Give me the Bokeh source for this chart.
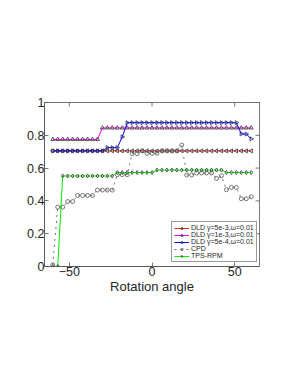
import math
from bokeh.plotting import figure
from bokeh.models import Range1d, FixedTicker, Legend, LegendItem
from bokeh.embed import file_html
from bokeh.resources import INLINE

# ---- data ----
angles = [-60, -57, -54, -51, -48, -45, -42, -39, -36, -33, -30, -27, -24, -21,
          -18, -15, -12, -9, -6, -3, 0, 3, 6, 9, 12, 15, 18, 21, 24, 27, 30, 33,
          36, 39, 42, 45, 48, 51, 54, 57, 60]

dld_5e3 = [0.705] * 41

dld_1e3 = [0.775, 0.775, 0.775, 0.775, 0.775, 0.775, 0.775, 0.775, 0.775, 0.775,
           0.845, 0.845, 0.845, 0.845, 0.845, 0.845, 0.845, 0.845, 0.845, 0.845,
           0.845, 0.845, 0.845, 0.845, 0.845, 0.845, 0.845, 0.845, 0.845, 0.845,
           0.845, 0.845, 0.845, 0.845, 0.845, 0.845, 0.845, 0.845, 0.845, 0.845,
           0.845]

dld_5e4 = [0.705, 0.705, 0.705, 0.705, 0.705, 0.705, 0.705, 0.705, 0.705, 0.705,
           0.705, 0.725, 0.725, 0.725, 0.790, 0.877, 0.877, 0.877, 0.877, 0.877,
           0.877, 0.877, 0.877, 0.877, 0.877, 0.877, 0.877, 0.877, 0.877, 0.877,
           0.877, 0.877, 0.877, 0.877, 0.877, 0.877, 0.877, 0.877, 0.808, 0.808,
           0.778]

cpd = [0.010, 0.362, 0.362, 0.396, 0.396, 0.433, 0.433, 0.433, 0.433, 0.466,
       0.466, 0.466, 0.466, 0.560, 0.560, 0.560, 0.688, 0.688, 0.705, 0.690,
       0.690, 0.690, 0.705, 0.705, 0.705, 0.705, 0.740, 0.558, 0.558, 0.570,
       0.570, 0.570, 0.570, 0.537, 0.553, 0.468, 0.482, 0.482, 0.413, 0.413,
       0.425]

tps_rpm = [0.000, 0.000, 0.552, 0.552, 0.552, 0.552, 0.552, 0.552, 0.552, 0.552,
           0.552, 0.552, 0.552, 0.573, 0.573, 0.573, 0.573, 0.573, 0.573, 0.573,
           0.573, 0.588, 0.588, 0.588, 0.588, 0.588, 0.588, 0.588, 0.588, 0.588,
           0.588, 0.588, 0.588, 0.588, 0.588, 0.573, 0.573, 0.573, 0.573, 0.573,
           0.573]

labels = ["DLD γ=5e-3,ω=0.01", "DLD γ=1e-3,ω=0.01", "DLD γ=5e-4,ω=0.01",
          "CPD", "TPS-RPM"]

x_ticks = [-50, 0, 50]
y_ticks = [0, 0.2, 0.4, 0.6, 0.8, 1]
y_tick_labels = ["0", "0.2", "0.4", "0.6", "0.8", "1"]
x_label = "Rotation angle"
x_lim = (-65, 65)
y_lim = (0, 1)

# ---- figure ----
FONT = "Liberation Sans"
TXT = "#262626"
AX = "#555555"

p = figure(frame_width=215, frame_height=164, output_backend="svg",
           toolbar_location=None, x_range=Range1d(*x_lim),
           y_range=Range1d(*y_lim), min_border_left=44, min_border_top=102,
           min_border_right=20, min_border_bottom=100,
           background_fill_color="white", border_fill_color="white")
p.grid.visible = False
p.outline_line_color = AX
p.outline_line_width = 0.8

ov = {t: s for t, s in zip(y_ticks, y_tick_labels)}

def style_axis(ax, ticks):
    ax.ticker = FixedTicker(ticks=ticks)
    ax.major_tick_in = 4
    ax.major_tick_out = 0
    ax.minor_tick_in = 0
    ax.minor_tick_out = 0
    ax.axis_line_color = AX
    ax.axis_line_width = 0.8
    ax.major_tick_line_color = AX
    ax.major_tick_line_width = 0.8
    ax.major_label_text_font = FONT
    ax.major_label_text_color = TXT
    ax.major_label_text_font_size = "12.5px"
    ax.major_label_standoff = 0

style_axis(p.xaxis[0], x_ticks)
style_axis(p.yaxis[0], y_ticks)
p.yaxis[0].major_label_overrides = ov
p.xaxis[0].axis_label = x_label
p.xaxis[0].axis_label_text_font = FONT
p.xaxis[0].axis_label_text_font_style = "normal"
p.xaxis[0].axis_label_text_font_size = "13px"
p.xaxis[0].axis_label_text_color = TXT
p.xaxis[0].axis_label_standoff = 0

# inward ticks on the top and right edges of the box
p.scatter(x_ticks, [y_lim[1]] * len(x_ticks), marker="dash", angle=math.pi / 2,
          size=8, line_color=AX, line_width=0.8)
p.scatter([x_lim[1]] * len(y_ticks), y_ticks, marker="dash",
          size=8, line_color=AX, line_width=0.8)

series = [
    (dld_5e3, "#ff2020", "solid", "triangle", math.pi / 2, "#333333"),
    (dld_1e3, "#ff00ff", "solid", "triangle", 0.0, "#333333"),
    (dld_5e4, "#0000ff", "solid", "triangle", -math.pi / 2, "#222266"),
    (cpd, "#777777", "dotted", "circle", 0.0, "#555555"),
    (tps_rpm, "#00ee00", "solid", "diamond", 0.0, "#333333"),
]

items = []
for (vals, col, dash, mk, ang, mcol), lab in zip(series, labels):
    lr = p.line(angles, vals, line_color=col, line_width=1, line_dash=dash)
    sr = p.scatter(angles, vals, marker=mk, angle=ang, size=4,
                   line_color=mcol, line_width=0.8, fill_color=None)
    items.append(LegendItem(label=lab, renderers=[lr, sr]))

legend = Legend(items=items, location=(127, 4), orientation="vertical",
                label_text_font=FONT, label_text_font_size="7px",
                label_text_color=TXT, label_height=6, glyph_height=6,
                glyph_width=15, spacing=-1, padding=2, margin=0,
                label_standoff=2, border_line_color="#333333",
                border_line_width=0.8, background_fill_alpha=1.0)
p.add_layout(legend, "center")

open("out.html", "w").write(file_html(p, INLINE))
